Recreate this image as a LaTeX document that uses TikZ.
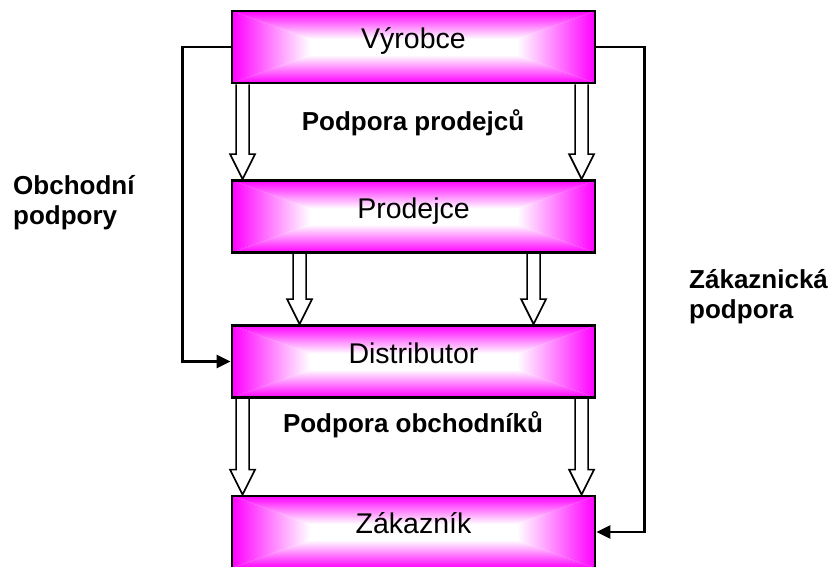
\documentclass[tikz,border=0pt]{standalone}
\usepackage{fontspec}
\setmainfont{Liberation Sans}
\usetikzlibrary{calc,arrows.meta,backgrounds}

\definecolor{mag}{RGB}{255,0,255}

% white near the centre, magenta towards the rim; the path spans 25bp (inner side) to 75bp (rim)
\pgfdeclareverticalshading{rimfade}{100bp}{color(0bp)=(white); color(25bp)=(white); color(36bp)=(white); color(75bp)=(mag); color(100bp)=(mag)}

\tikzset{
  % box with a rectangular gradient: magenta at the rim, white in the middle
  gbox/.style={draw=black, line width=2.8pt, minimum width=363pt, minimum height=72pt,
    inner sep=0pt, font=\fontsize{28.5}{30}\selectfont, text height=0.7em, text depth=0.34em,
    path picture={
      \coordinate (gNW) at (path picture bounding box.north west);
      \coordinate (gNE) at (path picture bounding box.north east);
      \coordinate (gSW) at (path picture bounding box.south west);
      \coordinate (gSE) at (path picture bounding box.south east);
      \coordinate (gL) at ($(path picture bounding box.west)+(100,0)$);
      \coordinate (gR) at ($(path picture bounding box.east)+(-100,0)$);
      \shade[shading=rimfade, shading angle=0]   (gNW) -- (gNE) -- (gR) -- (gL) -- cycle;
      \shade[shading=rimfade, shading angle=180] (gSW) -- (gSE) -- (gR) -- (gL) -- cycle;
      \shade[shading=rimfade, shading angle=90]  (gNW) -- (gL) -- (gSW) -- cycle;
      \shade[shading=rimfade, shading angle=-90] (gNE) -- (gR) -- (gSE) -- cycle;
    }},
  lbl/.style={font=\fontsize{26}{29.5}\selectfont\bfseries, inner sep=0pt},
  sideline/.style={line width=2.6pt, -{Triangle[length=14pt,width=13pt]}},
  hollow/.style={draw=black, fill=white, line width=1.7pt, line join=miter},
}

% hollow block arrow from the bottom of #1 to the top of #2, #3 = offset from the west side
\newcommand\holarrow[3]{%
  \draw[hollow] ($(#1.south west)+(#3-6.5,0)$) -- ($(#2.north west)+(#3-6.5,-25)$)
    -- ($(#2.north west)+(#3-12.5,-25)$) -- ($(#2.north west)+(#3,0)$)
    -- ($(#2.north west)+(#3+12.5,-25)$) -- ($(#2.north west)+(#3+6.5,-25)$)
    -- ($(#1.south west)+(#3+6.5,0)$);
}

\begin{document}
\begin{tikzpicture}[x=1pt, y=-1pt]
  \useasboundingbox (0,0) rectangle (833,566);

  \node[gbox] (vyr) at (413.5,47)    {Výrobce};
  \node[gbox] (pro) at (413.5,216.5) {Prodejce};
  \node[gbox] (dis) at (413.5,361.5) {Distributor};
  \node[gbox] (zak) at (413.5,532)   {Zákazník};

  \begin{scope}[on background layer]
    \holarrow{vyr}{pro}{12}
    \holarrow{vyr}{pro}{351}
    \holarrow{pro}{dis}{69}
    \holarrow{pro}{dis}{303}
    \holarrow{dis}{zak}{12}
    \holarrow{dis}{zak}{351}
  \end{scope}

  \draw[sideline] (vyr.west) -- ++(-48,0) |- (dis.west);
  \draw[sideline] (vyr.east) -- ++(48,0) |- (zak.east);

  \node[lbl, anchor=base] (pprod) at (413,130) {Podpora prodejců};
  \node[lbl, anchor=base] (pobch) at (413,432) {Podpora obchodníků};
  \node[lbl, anchor=base west, align=left] (obp) at (13,224) {Obchodní\\podpory};
  \node[lbl, anchor=base west, align=left] (zap) at (689,318) {Zákaznická\\podpora};
\end{tikzpicture}
\end{document}
